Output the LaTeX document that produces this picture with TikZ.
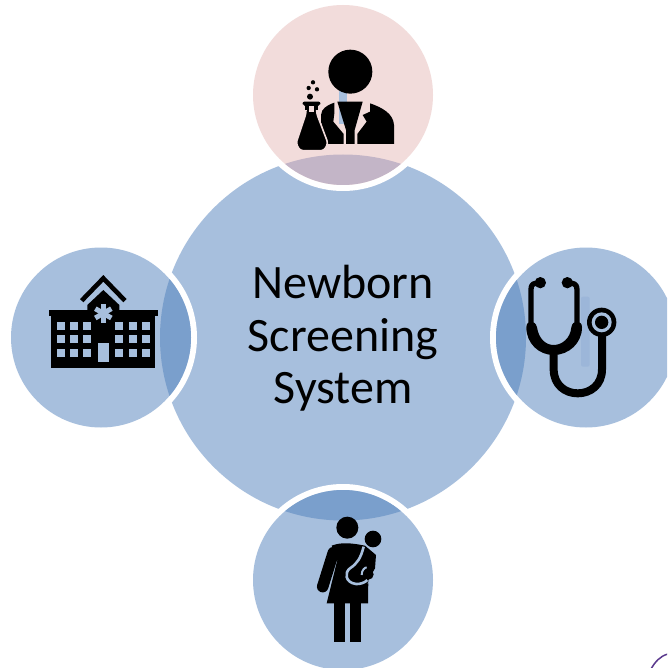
\documentclass[tikz,border=0pt]{standalone}
\usepackage{fontspec}
\setmainfont{Carlito}
\definecolor{mainblue}{HTML}{A7BFDD}
\definecolor{lensblue}{HTML}{7A9FCC}
\definecolor{pinkc}{HTML}{F2DCDB}
\definecolor{lenspink}{HTML}{C3B5C7}
\definecolor{stripblue}{HTML}{9CB6D9}
\definecolor{purplec}{HTML}{5B3A8E}
\tikzset{
  icon/.style={fill=black,draw=none},
  zoomed/.style={shift={#1},scale=1/3},
  title/.style={align=center,font=\fontsize{48}{52.5}\selectfont,text=black}
}
\begin{document}
\begin{tikzpicture}[x=1pt,y=-1pt]
\path[use as bounding box] (0,0) rectangle (667,668);
\clip (0,0) rectangle (667,668);
\fill[white] (0,0) rectangle (667,668);
\coordinate (C) at (343,337.5);
\coordinate (T) at (343,95);
\coordinate (L) at (101,337.5);
\coordinate (R) at (586,337.5);
\coordinate (B) at (343,580);
\fill[mainblue] (C) circle[radius=183];
\foreach \p in {T,L,R,B} \fill[white] (\p) circle[radius=96];
\fill[pinkc] (T) circle[radius=90];
\foreach \p in {L,R,B} \fill[mainblue] (\p) circle[radius=90];
\begin{scope}
  \clip (C) circle[radius=183];
  \fill[lenspink] (T) circle[radius=90];
  \foreach \p in {L,R,B} \fill[lensblue] (\p) circle[radius=90];
\end{scope}
\node[title] (label) at (343,338.5) {Newborn\\Screening\\System};
% scientist
\begin{scope}[zoomed={(250,0)}]
  \fill[mainblue] (267,272) rectangle (292,373);
  \fill[icon] (301,215) circle[radius=66];
  \fill[icon] (262,305) -- (338,305) -- (314,390) -- (314,432) -- (288,432) -- (288,390) -- cycle;
  \fill[icon] (213,345) .. controls (215,325) and (230,318) .. (245,311) -- (253,308) -- (253,340) -- (250,365) -- (281,402) -- (281,432) -- (232,432) -- (213,366) -- cycle;
  \fill[icon] (360,310) .. controls (395,322) and (430,340) .. (432,375) -- (432,432) -- (322,432) -- (322,402) -- (350,365) -- (338,345) -- (360,335) -- cycle;
  \fill[icon,rounded corners=2pt] (157,305) -- (212,305) -- (210,318) -- (159,318) -- cycle;
  \filldraw[fill=black,draw=pinkc,line width=1.6pt,rounded corners=3pt] (168,316) -- (168,340) -- (138,430) -- (150,452) -- (222,452) -- (234,430) -- (200,340) -- (200,316) -- cycle;
  \fill[icon] (165,312) rectangle (203,330);
  \fill[pinkc] (177,318) rectangle (193,335);
  \fill[icon] (180,290) circle[radius=9];
  \fill[icon] (176,264) circle[radius=6.5];
  \fill[icon] (201,268) circle[radius=6.5];
  \fill[icon] (189,247) circle[radius=6.5];
\end{scope}
% hospital
\begin{scope}[zoomed={(0,240)}]
  \draw[line width=4.6pt,black] (245,182) -- (310,115) -- (375,182);
  \fill[icon] (262,215) -- (262,195) -- (310,150) -- (358,195) -- (358,215) -- cycle;
  \fill[icon] (146,211) rectangle (474,228);
  \fill[icon] (154,225) rectangle (466,385);
  \foreach \x in {170,210,250,346,386,426}
    \foreach \y in {245,286,327}
      \fill[mainblue] (\x,\y) rectangle ++(24,24);
  \fill[mainblue] (295,310) rectangle (327,367);
  \draw[line width=5pt,mainblue] (310,192) -- (310,248);
  \draw[line width=5pt,mainblue] (286,206) -- (334,234);
  \draw[line width=5pt,mainblue] (286,234) -- (334,206);
\end{scope}
% stethoscope
\begin{scope}[zoomed={(487,240)}]
  \fill[stripblue,rounded corners=2pt] (282,170) rectangle (308,380);
  \draw[line width=5.3pt,black,line join=round] (160,128) -- (145,130) .. controls (135,132) and (132,138) .. (132,150) -- (132,255);
  \draw[line width=5.3pt,black,line join=round] (241,128) -- (256,130) .. controls (266,132) and (270,138) .. (270,150) -- (270,255);
  \fill[icon] (160,128) circle[radius=17];
  \fill[icon] (241,128) circle[radius=17];
  \fill[icon] (118,262) .. controls (118,250) and (125,245) .. (132,245) .. controls (140,245) and (147,250) .. (150,262) .. controls (155,295) and (175,315) .. (200,315) .. controls (225,315) and (250,295) .. (253,262) .. controls (255,250) and (262,245) .. (269,245) .. controls (278,245) and (285,250) .. (285,262) .. controls (285,310) and (245,345) .. (200,345) .. controls (155,345) and (118,310) .. (118,262) -- cycle;
  \draw[line width=8pt,black] (200,335) -- (200,388) .. controls (200,435) and (235,460) .. (272,460) .. controls (310,460) and (345,435) .. (345,388) -- (345,280);
  \fill[icon] (344,247) circle[radius=44];
  \fill[mainblue] (344,247) circle[radius=30];
  \fill[icon] (344,247) circle[radius=20];
\end{scope}
% mother and child
\begin{scope}[zoomed={(250,480)}]
  \fill[icon] (292,143) circle[radius=33];
  \fill[icon] (369,177) circle[radius=25];
  \draw[line width=11.5pt,black,line cap=round] (250,218) -- (218,320);
  \fill[icon] (245,197) .. controls (275,185) and (310,190) .. (345,197) -- (378,225) -- (375,265) -- (355,300) -- (354,370) -- (230,370) -- (262,240) -- cycle;
  \fill[mainblue] (352,310) -- (372,292) -- (372,310) -- cycle;
  \draw[line width=2.6pt,mainblue] (341,200) .. controls (332,235) and (322,250) .. (300,265) .. controls (283,277) and (285,308) .. (318,312) .. controls (330,313) and (345,308) .. (352,300);
  \draw[line width=2pt,mainblue] (350,262) .. controls (345,262) and (335,270) .. (335,285);
  \fill[icon] (355,283) circle[radius=16];
  \fill[icon] (251,368) rectangle (284,487);
  \fill[icon] (300,368) rectangle (333,487);
\end{scope}
\draw[purplec,line width=1.5pt] (651,669) .. controls (655,662) and (660,656) .. (668,654);
\end{tikzpicture}
\end{document}
